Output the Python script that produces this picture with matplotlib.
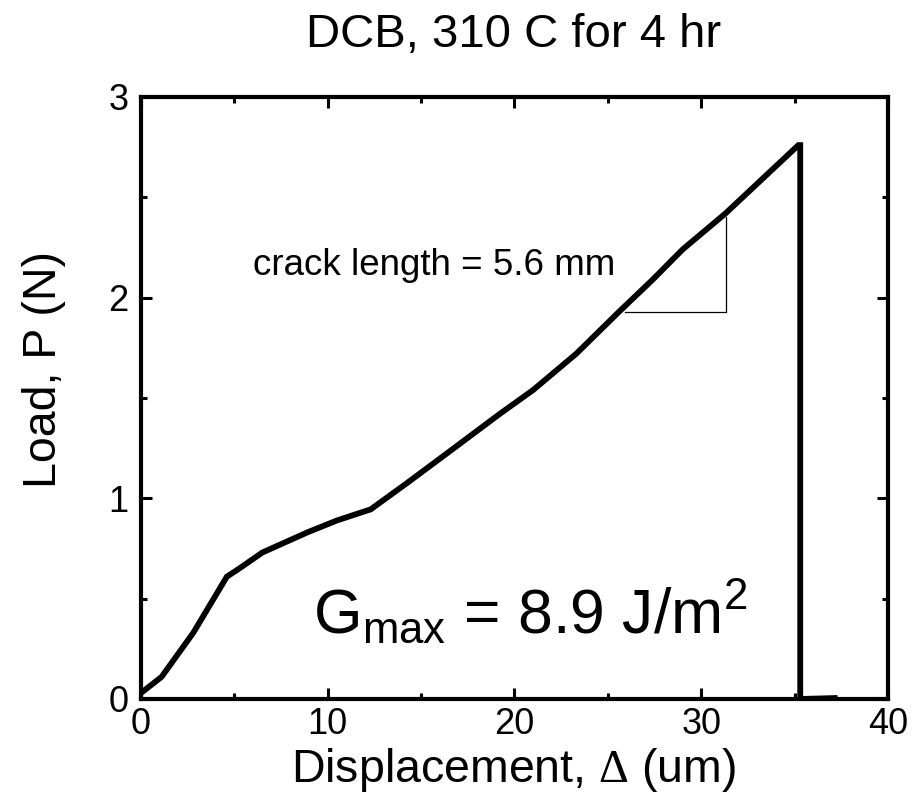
import numpy as np
import matplotlib
matplotlib.use('Agg')
import matplotlib.pyplot as plt
from matplotlib.ticker import MultipleLocator

plt.rcParams['font.family'] = ['Liberation Sans', 'DejaVu Sans']
plt.rcParams['mathtext.fontset'] = 'custom'
plt.rcParams['mathtext.rm'] = 'Liberation Serif'
plt.rcParams['mathtext.sf'] = 'Liberation Sans'
plt.rcParams['mathtext.default'] = 'sf'

# Load-displacement record
disp = [0.0, 1.1, 2.8, 4.6, 5.1, 6.5, 8.9, 10.5, 12.3, 14.3, 16.9, 19.2,
        21.0, 23.3, 25.6, 27.4, 29.0, 31.3, 35.2, 35.3, 35.3, 37.3]
load = [0.03, 0.11, 0.33, 0.61, 0.64, 0.73, 0.83, 0.89, 0.945, 1.08, 1.26, 1.42,
        1.54, 1.72, 1.93, 2.09, 2.24, 2.42, 2.76, 2.76, 0.0, 0.005]

# slope triangle
tri_x = [25.9, 31.3, 31.3]
tri_y = [1.93, 1.93, 2.40]

title = 'DCB, 310 C for 4 hr'
crack_note = 'crack length = 5.6 mm'
g_note = r'$G_{max}$ = 8.9 J/m$^{2}$'

fig = plt.figure(figsize=(9.2, 7.97), dpi=100)
ax = fig.add_axes([141/920, 1 - 699/797, 747/920, 602/797])

ax.plot(disp, load, color='black', linewidth=4.2, solid_joinstyle='miter', solid_capstyle='butt')
ax.plot(tri_x, tri_y, color='black', linewidth=0.9)

ax.set_xlim(0, 40)
ax.set_ylim(0, 3)
ax.xaxis.set_major_locator(MultipleLocator(10))
ax.xaxis.set_minor_locator(MultipleLocator(5))
ax.yaxis.set_major_locator(MultipleLocator(1))
ax.yaxis.set_minor_locator(MultipleLocator(0.5))

for s in ax.spines.values():
    s.set_linewidth(3.0)
ax.tick_params(which='both', direction='in', top=True, right=True, width=2.2, labelsize=26)
ax.tick_params(which='major', length=8)
ax.tick_params(which='minor', length=4.5)
ax.tick_params(axis='x', pad=6)
ax.tick_params(axis='y', pad=9)

ax.text(6.0, 2.16, crack_note, fontsize=26.5, ha='left', va='center')
ax.text(9.2, 0.33, g_note, fontsize=45, ha='left', va='baseline')

fig.text(514/920, 1 - 47/797, title, fontsize=34, ha='center', va='baseline')
fig.text(514/920, 1 - 782/797, r'Displacement, $\mathrm{\Delta}$ (um)', fontsize=33.5,
         ha='center', va='baseline')
fig.text(44/920, 1 - 369/797, 'Load, P (N)', fontsize=33.5, rotation=90,
         ha='center', va='center')

fig.savefig('out.png', dpi=100)
